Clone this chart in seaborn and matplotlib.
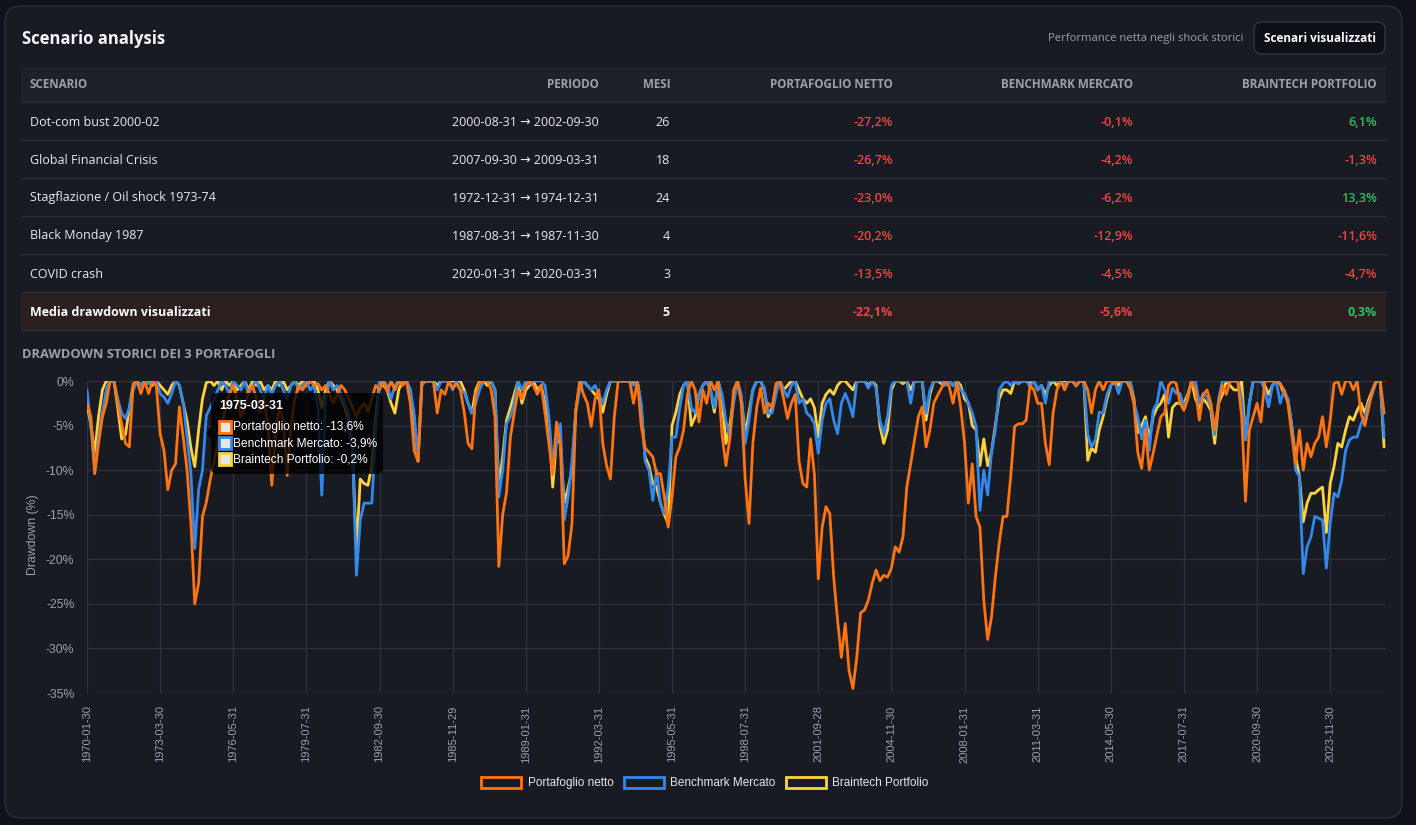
import numpy as np
import pandas as pd
import matplotlib
matplotlib.use("Agg")
import matplotlib.pyplot as plt
import seaborn as sns
from matplotlib.patches import FancyBboxPatch, Rectangle, Polygon, Patch
from matplotlib.lines import Line2D
from matplotlib.transforms import IdentityTransform

W, H = 1416, 825

# ---------------- data ----------------
scenarios = ["Dot-com bust 2000-02", "Global Financial Crisis", "Stagflazione / Oil shock 1973-74",
             "Black Monday 1987", "COVID crash"]
periods = ["2000-08-31 \u2192 2002-09-30", "2007-09-30 \u2192 2009-03-31", "1972-12-31 \u2192 1974-12-31",
           "1987-08-31 \u2192 1987-11-30", "2020-01-31 \u2192 2020-03-31"]
months = [26, 18, 24, 4, 3]
ret_netto = [-27.2, -26.7, -23.0, -20.2, -13.5]
ret_bench = [-0.1, -4.2, -6.2, -12.9, -4.5]
ret_brain = [6.1, -1.3, 13.3, -11.6, -4.7]
avg_label = "Media drawdown visualizzati"
avg_months = 5
avg_netto, avg_bench, avg_brain = -22.1, -5.6, 0.3

series_names = ["Portafoglio netto", "Benchmark Mercato", "Braintech Portfolio"]
tick_labels = ["1970-01-30", "1973-03-30", "1976-05-31", "1979-07-31", "1982-09-30", "1985-11-29",
               "1989-01-31", "1992-03-31", "1995-05-31", "1998-07-31", "2001-09-28", "2004-11-30",
               "2008-01-31", "2011-03-31", "2014-05-30", "2017-07-31", "2020-09-30", "2023-11-30"]
tick_every = 38          # months between labelled ticks
sample_every = 2         # the series below are read every 2 months from 1970-01
last_month = 675

# drawdowns (%) read every two months
dd_netto = [
    -2.5, -4.0, -10.4, -7.0, -4.0, -2.5, 0, 0, -2.5, -4.8, -7.0, -7.4, -0.3, 0, -1.4, 0, -1.4, 0, -0.5,
    -5.9, -7.8, -12.2, -10.0, -9.3, -2.9, -6.3, -10.0, -16.0, -25.0, -22.7, -15.2, -13.6, -11.1,
    -9.0, -7.0, -5.0, -3.0, -1.5, -0.5, -2.0, -4.0, -3.0, -1.0, -0.5, -2.0, -3.5, -2.0, -5.0, -11.7,
    -6.0, -3.0, -4.5, -10.6, -5.0, -2.0, -0.5, -1.0, -0.3, 0,
    -0.5, -0.3, -1.0, -0.5, -1.5, -2.5, -1.5, -0.5, -1.0, -2.0, -3.0, -4.0, -3.0, -2.5, -3.5, -2.0,
    -0.5, -1.0, 0, -1.2, 0, -1.0, 0, -0.5, 0, -2.5, -7.8, -9.0, 0, 0, 0, 0, -3.6, -1.0, -1.5, 0, -0.8,
    -0.3, -1.0, -3.5, -7.0, -7.6, -1.5, -0.2, 0, 0, -1.0, -4.0, -20.8, -15.0, -12.5, -6.3, -3.6, -1.0,
    -2.0, -0.5, 0,
    -0.5, -1.5, -0.5, -3.6, -7.0, -10.5, -4.6, -7.0, -20.5, -19.6, -16.0, -3.3, 0, -1.5, -2.5, -5.1,
    -2.0, -1.0, -7.0, -9.5, -11.0, -4.0, 0, 0, 0, 0, -2.5, 0, -5.0, -7.5, -8.0, -8.5, -10.4, -10.4,
    -13.0, -16.4, -13.0, -8.5, -7.4, -5.5, -1.5, 0, -1.0, -4.6, -1.0, -2.5, 0, -1.0, 0, -6.0, -9.5,
    -6.5, -1.0, 0, -2.5, -11.0, -16.0,
    -7.0, -3.0, -0.8, -3.6, -2.5, -3.0, -0.3, 0, -2.0, -4.2, -2.5, -1.5, -9.0, -11.5, -11.9, -6.5,
    -10.5, -22.2, -16.4, -14.1, -14.9, -22.0, -26.8, -31.0, -27.2, -32.5, -34.5, -31.0, -26.0, -25.7,
    -24.6, -22.7, -21.2, -22.4, -21.8, -22.0, -21.0, -18.6, -19.2, -17.5, -11.9, -9.3, -6.6, -4.0,
    -2.9, -7.4, -5.5, -2.5, -1.6, -0.8, 0, -0.6, -2.5, -0.2, -2.9, -7.0, -13.7,
    -9.3, -15.2, -16.4, -24.6, -29.0, -26.5, -22.0, -18.2, -15.2, -15.2, -10.7, -5.1, -4.8, -4.8,
    -4.4, -0.5, -1.0, -2.5, -2.5, -7.0, -9.4, -3.6, -1.0, 0, -1.0, 0, 0, -0.5, 0, 0, -1.0, -3.6, -1.0,
    0, -1.0, 0, 0, -0.3, 0, 0, 0, -0.8, -2.5, -8.0, -9.8, -5.5, -10.0, -8.1, -6.0, -4.0, -3.6, -0.5, 0,
    -0.3, -2.5, -3.3, -2.0,
    0, -1.0, -4.4, -1.5, -1.0, -2.5, -5.5, -2.5, -0.5, -1.5, 0, 0, 0, -4.0, -13.5, -5.5, -4.0, -2.5,
    -4.6, 0, 0, 0, 0, -0.3, -1.0, -2.5, -5.9, -9.3, -5.5, -10.0, -7.0, -8.5, -7.0, -6.3, -4.0, -7.4,
    -4.4, -0.3, 0, -1.5, 0, 0, -1.0, 0, -3.6, -5.0, -3.0, -1.0, 0, 0, -3.6,
]
dd_bench = [
    -1.0, -5.0, -10.0, -6.3, -3.6, -1.0, 0, 0, -2.0, -3.6, -4.2, -3.0, -1.0, 0, -0.5, 0, -0.3, 0, 0,
    -1.4, -1.8, -2.5, -1.4, 0, -0.5, -2.5, -6.3, -10.4, -18.8, -12.2, -10.0, -3.9, -3.0,
    -2.0, -1.0, 0, -0.5, -1.5, 0, -0.5, -1.0, 0, -1.5, -0.5, 0, -1.0, -2.0, -0.5, -1.5, -0.5, 0, -1.0,
    -2.0, -0.5, 0, -1.0, -0.5, 0, -1.0,
    -0.5, -3.0, -12.8, -2.0, 0, -1.0, -0.5, -1.5, -2.5, -3.5, -8.0, -21.8, -15.6, -13.7, -13.7, -13.7,
    -6.0, 0, 0, -0.5, -2.0, -0.5, 0, 0, 0, -1.0, -3.6, -9.0, -0.5, 0, 0, 0, -1.0, 0, 0, 0, -1.0, 0,
    -1.0, -1.3, -2.5, -3.6, -2.5, -1.0, 0, 0, 0, -1.0, -13.0, -10.0, -4.8, -4.0, -2.5, 0, -1.0, 0, -0.3,
    0, 0, 0, -0.5, -4.0, -9.5, -7.0, -4.8, -15.6, -13.0, -9.0, -3.5, -1.0, 0, -0.5, -1.0, -0.5, -1.5,
    -2.5, -1.0, 0, 0, 0, 0, 0, 0, -0.5, 0, -2.5, -9.0, -10.0, -13.4, -10.0, -13.7, -14.9, -11.9, -6.3,
    -6.3, -3.0, -0.5, 0, -3.0, -3.6, -1.5, -0.5, 0, -1.0, -3.0, 0, -1.5, -4.5, -6.3, -2.5, 0, -1.5,
    -7.0, -4.4,
    -1.0, 0, 0, -0.8, -3.6, -3.6, -1.5, 0, -1.0, -1.8, -0.5, 0, -2.5, -2.0, -3.6, -4.0, -4.8, -8.1,
    -4.4, -2.5, -2.0, -4.4, -5.9, -2.5, -1.4, -2.5, -4.0, 0, 0, 0, -0.8, 0, -0.8, -4.4, -5.9, -4.0,
    -0.5, 0, 0, 0, 0, -2.5, 0, 0, 0, -3.6, -1.0, 0, 0, 0, -0.5, 0, -0.5, 0, -1.0, -1.4, -2.5,
    -3.6, -5.1, -14.5, -10.0, -12.8, -8.0, -5.5, -1.0, -0.3, 0, -0.5, 0, -0.3, 0, 0, -0.6, 0, -1.0,
    -0.5, -2.5, 0, 0, 0, 0, -0.5, 0, 0, -0.6, 0, 0, -6.0, -7.4, -6.6, -3.5, -3.6, -1.5, -0.5, 0, -1.4,
    0, 0, 0, -2.5, -4.0, -6.5, -4.4, -7.8, -3.3, -2.5, 0, -1.0, -2.5, -0.8, -1.4, -1.4, -2.9, -1.8,
    0, 0, -2.5, -1.4, -1.8, -2.9, -6.0, -2.0, 0, 0, 0, 0, 0, -2.0, -6.6, -2.5, 0, 0, 0, -1.0, -2.9,
    -0.5, 0, -2.5, -1.0, -2.0, -4.8, -10.0, -10.7, -21.6, -18.6, -17.5, -15.2, -15.4, -15.6, -21.0,
    -16.0, -12.6, -13.0, -11.1, -7.8, -6.6, -6.3, -6.3, -4.8, -4.0, -2.5, -1.4, 0, 0, -6.3,
]
dd_brain = [
    -2.5, -5.0, -8.0, -4.0, -1.0, 0, 0, 0, -3.0, -6.5, -6.0, -3.0, -0.5, 0, -0.5, 0, 0, -0.5, 0, -0.5,
    -1.0, -1.5, -0.5, 0, -0.5, -2.5, -4.5, -7.5, -9.6, -5.5, -2.0, -0.2, 0,
    -0.5, 0, -1.0, 0, -0.5, 0, -1.0, -0.5, 0, -1.0, 0, -0.5, 0, -1.0, -0.5, -1.0, 0, -0.5, 0, -1.0,
    -0.5, 0, -0.5, 0, -0.5, 0,
    0, -1.0, -3.0, -1.0, 0, -0.5, -1.0, -2.0, -3.0, -4.5, -8.0, -19.0, -11.0, -11.5, -11.7, -9.5,
    -4.0, 0, -0.5, -1.0, -2.5, -3.6, -1.0, 0, 0, -1.0, -4.5, -9.0, -0.3, 0, 0, 0, -0.5, 0, 0, 0, 0, 0,
    0, -1.0, -2.5, -3.6, -1.0, 0, 0, -0.5, 0, -1.0, -11.9, -8.5, -4.4, -3.0, -1.5, 0, -2.5, -1.0, -0.5,
    0, -1.0, -0.5, -2.5, -5.0, -11.9, -6.5, -7.0, -13.7, -12.0, -10.0, -3.3, -0.5, 0, -0.5, -1.0,
    -1.5, -2.0, -3.5, -1.5, 0, 0, 0, 0, 0, 0, -0.3, 0, -3.0, -8.5, -9.5, -11.5, -11.9, -13.7, -15.0,
    -16.0, -5.0, -3.5, -1.5, -0.5, 0, -5.0, -4.0, -1.5, -0.5, 0, -1.0, -3.5, 0, -2.0, -7.0, -5.0,
    -2.0, 0, -2.0, -6.0, -3.5,
    -1.0, 0, 0, -1.0, -4.0, -3.0, -1.0, 0, -1.0, -0.5, 0, 0, -1.0, -2.0, -2.5, -2.0, -3.0, -6.3,
    -2.5, -1.5, -1.0, -1.5, -0.5, 0, 0, -0.5, -1.0, 0, 0, 0, -0.5, 0, -0.5, -5.0, -7.0, -5.5, -1.0,
    0, 0, -0.3, 0, -1.0, 0, 0, 0, -4.4, -1.5, 0, 0, -0.3, 0, 0, -0.5, 0, -0.5, -2.0, -2.5,
    -5.0, -5.5, -9.5, -6.5, -9.5, -8.0, -5.0, -2.0, -1.0, -1.0, -1.4, 0, -0.3, 0, 0, -0.3, 0, -1.0,
    -0.5, -1.5, -0.5, 0, -0.5, 0, 0, 0, 0, -0.5, 0, 0, -8.9, -7.5, -8.0, -5.5, -4.0, -2.0, -0.5, 0,
    -0.5, 0, 0, 0, -2.0, -5.8, -5.0, -4.0, -6.5, -4.0, -3.0, -2.5, -1.5, -6.3, -3.0, -2.5, -2.5, -2.5,
    -1.5,
    0, -2.0, -3.0, -2.0, -2.5, -3.3, -7.0, -2.5, -1.5, 0, -0.5, -1.0, -1.0, 0, -6.6, -2.5, 0, 0, 0,
    -0.5, -1.5, -0.5, 0, -0.3, -1.5, -2.0, -5.0, -8.5, -10.7, -15.8, -13.7, -12.6, -12.6, -12.2,
    -11.9, -17.0, -11.5, -9.6, -7.0, -7.4, -5.5, -4.0, -4.4, -3.3, -2.5, -3.6, -2.1, -1.0, 0, 0, -7.4,
]

tooltip_date = "1975-03-31"
tooltip_values = [-13.6, -3.9, -0.2]

# ---------------- style ----------------
BG_OUT = "#0f1219"
CARD = "#191b23"
HEAD = "#1f2129"
AVG_BG = "#2b1f20"
SEP = "#2c303a"
GRID = "#2d313b"
TXT = "#e8eaee"
MUTED = "#9aa1ad"
RED = "#ef4444"
GREEN = "#22c55e"
colors = {"Portafoglio netto": "#ff7410", "Benchmark Mercato": "#3388ee", "Braintech Portfolio": "#fdd23c"}

sns.set_theme(style="dark")
plt.rcParams["font.family"] = ["Open Sans", "DejaVu Sans"]
CHART_FONT = ["Liberation Sans", "DejaVu Sans"]

fig = plt.figure(figsize=(W / 100, H / 100), dpi=100, facecolor=BG_OUT)
T = IdentityTransform()


def ftext(x, y, s, **kw):
    return fig.text(x, H - y, s, transform=T, **kw)


def frect(x0, y0, x1, y1, **kw):
    r = Rectangle((x0, H - y1), x1 - x0, y1 - y0, transform=T, **kw)
    fig.add_artist(r)
    return r


def fround(x0, y0, x1, y1, rad, **kw):
    p = FancyBboxPatch((x0, H - y1), x1 - x0, y1 - y0,
                       boxstyle=f"round,pad=0,rounding_size={rad}", transform=T, **kw)
    fig.add_artist(p)
    return p


def pct(v):
    return f"{v:.1f}".replace(".", ",") + "%"


# card
fround(5, 6, 1402, 818, 16, fc=CARD, ec="#2c303b", lw=1, zorder=-10)

# header
ftext(22, 39, "Scenario analysis", fontsize=12, fontweight="bold", color="#f5f6f8", va="center")
ftext(1243, 39, "Performance netta negli shock storici", fontsize=8.1, color=MUTED, va="center", ha="right")
fround(1254, 22, 1385, 54, 8, fc="#0d1017", ec="#303643", lw=1, zorder=1)
ftext(1319.5, 38.5, "Scenari visualizzati", fontsize=8.5, fontweight="bold", color="#ffffff",
      va="center", ha="center", zorder=2)

# table
TX0, TX1 = 21, 1386
frect(TX0, 67, TX1, 102, fc=HEAD, ec="none", zorder=-5)
frect(TX0, 293, TX1, 330, fc=AVG_BG, ec="none", zorder=-5)
for yy in [102, 140, 178, 216, 254, 292, 330]:
    fig.add_artist(Line2D([TX0, TX1], [H - yy, H - yy], transform=T, color=SEP, lw=1, zorder=-4))

col_right = [599, 670, 893, 1133, 1377]
headers = ["PERIODO", "MESI", "PORTAFOGLIO NETTO", "BENCHMARK MERCATO", "BRAINTECH PORTFOLIO"]
ftext(30, 85, "SCENARIO", fontsize=8.4, fontweight="bold", color=MUTED, va="center")
for xr, h in zip(col_right, headers):
    ftext(xr, 85, h, fontsize=8.4, fontweight="bold", color=MUTED, va="center", ha="right")

row_y = [122, 160, 198, 236, 274]
for i, y in enumerate(row_y):
    ftext(30, y, scenarios[i], fontsize=9, color=TXT, va="center")
    ftext(col_right[0], y, periods[i], fontsize=9, color=TXT, va="center", ha="right")
    ftext(col_right[1], y, str(months[i]), fontsize=9, color=TXT, va="center", ha="right")
    for xr, v in zip(col_right[2:], [ret_netto[i], ret_bench[i], ret_brain[i]]):
        ftext(xr, y, pct(v), fontsize=9, color=RED if v < 0 else GREEN, va="center", ha="right",
              fontweight="semibold")
ftext(30, 312, avg_label, fontsize=9, color="#ffffff", va="center", fontweight="bold")
ftext(col_right[1], 312, str(avg_months), fontsize=9, color="#ffffff", va="center", ha="right",
      fontweight="bold")
for xr, v in zip(col_right[2:], [avg_netto, avg_bench, avg_brain]):
    ftext(xr, 312, pct(v), fontsize=9, color=RED if v < 0 else GREEN, va="center", ha="right",
          fontweight="bold")

ftext(22, 355, "DRAWDOWN STORICI DEI 3 PORTAFOGLI", fontsize=9.3, fontweight="bold", color=MUTED,
      va="center")

# ---------------- chart ----------------
ax = fig.add_axes([87 / W, (H - 693) / H, (1386 - 87) / W, (693 - 381) / H])
ax.set_facecolor("none")
x_months = np.arange(len(dd_netto)) * sample_every
df = pd.DataFrame({"month": x_months,
                   series_names[0]: dd_netto,
                   series_names[1]: dd_bench,
                   series_names[2]: dd_brain})
long = df.melt(id_vars="month", var_name="serie", value_name="drawdown")
draw_order = [series_names[2], series_names[1], series_names[0]]
sns.lineplot(data=long, x="month", y="drawdown", hue="serie", hue_order=draw_order,
             palette=colors, linewidth=2.0, legend=False, ax=ax, estimator=None)

ax.set_xlim(0, last_month)
ax.set_ylim(-35, 0)
ax.set_xticks(np.arange(len(tick_labels)) * tick_every)
ax.set_xticklabels(tick_labels, rotation=90, fontsize=8, color=MUTED, family=CHART_FONT)
yt = list(range(-35, 1, 5))
ax.set_yticks(yt)
ax.set_yticklabels([f"{v}%" for v in yt], fontsize=8.8, color=MUTED, family=CHART_FONT)
ax.grid(True, color=GRID, lw=1)
ax.tick_params(axis="both", length=6, width=1, color=GRID, pad=3)
ax.set_xlabel("")
ax.set_ylabel("")
for s in ax.spines.values():
    s.set_visible(False)
ftext(33, 535, "Drawdown (%)", rotation=90, fontsize=8.8, color=MUTED, va="center", ha="center",
      family=CHART_FONT)

# legend
handles = [Patch(facecolor="none", edgecolor=colors[n], lw=2, label=n) for n in series_names]
fig.legend(handles=handles, loc="center", bbox_to_anchor=(705 / W, (H - 783) / H), ncol=3,
           frameon=False, handlelength=3.4, handleheight=1.1, handletextpad=0.55,
           columnspacing=0.85, prop={"family": CHART_FONT, "size": 8.5}, labelcolor="#e5e7eb")

# tooltip
fround(211, 393, 383, 474, 6, fc=(0, 0, 0, 0.8), ec="none", zorder=5)
fig.add_artist(Polygon([[206, H - 433], [211.5, H - 427], [211.5, H - 439]], closed=True,
                       transform=T, fc=(0, 0, 0, 0.8), ec="none", zorder=5))
ftext(219, 406, tooltip_date, fontsize=9, fontweight="bold", color="#ffffff", va="center",
      family=CHART_FONT, zorder=6)
for k, (n, v) in enumerate(zip(series_names, tooltip_values)):
    yc = 427 + 16 * k
    frect(218.5, yc - 6, 230.5, yc + 6, fc="#e6e6e6", ec=colors[n], lw=2, zorder=6)
    ftext(233, yc, f"{n}: {pct(v)}", fontsize=8.6, color="#ffffff", va="center",
          family=CHART_FONT, zorder=6)

fig.savefig("out.png", dpi=100, facecolor=BG_OUT)
